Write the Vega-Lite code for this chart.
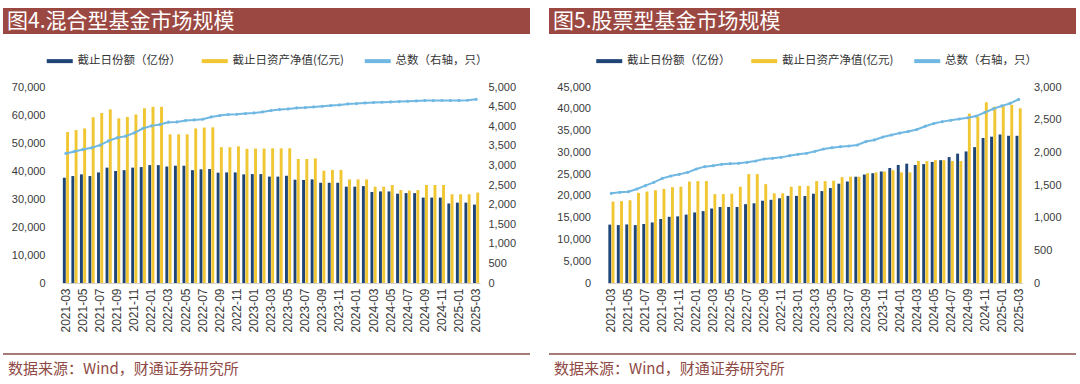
{
  "$schema": "https://vega.github.io/schema/vega-lite/v6.json",
  "background": "white",
  "padding": {"left": 3, "top": 8, "right": 0, "bottom": 0},
  "spacing": 20,
  "config": {
    "font": "Noto Sans CJK SC",
    "view": {"stroke": null},
    "axis": {"labelFont": "Liberation Sans", "labelFontSize": 11, "labelColor": "#3a3a3a", "ticks": false, "grid": false, "domain": false}
  },
  "resolve": {"scale": {"color": "independent"}, "legend": {"color": "independent"}},
  "datasets": {
    "mixed": [
      {"m": "2021-03", "share": 37600, "nav": 53900, "count": 3305},
      {"m": "2021-04", "share": 38200, "nav": 54600, "count": 3356},
      {"m": "2021-05", "share": 38800, "nav": 55200, "count": 3407},
      {"m": "2021-06", "share": 38200, "nav": 59200, "count": 3449},
      {"m": "2021-07", "share": 39500, "nav": 60700, "count": 3517},
      {"m": "2021-08", "share": 41200, "nav": 62000, "count": 3627},
      {"m": "2021-09", "share": 40000, "nav": 58800, "count": 3703},
      {"m": "2021-10", "share": 40300, "nav": 59300, "count": 3746},
      {"m": "2021-11", "share": 41200, "nav": 60200, "count": 3830},
      {"m": "2021-12", "share": 41400, "nav": 62400, "count": 3941},
      {"m": "2022-01", "share": 42100, "nav": 62900, "count": 4008},
      {"m": "2022-02", "share": 42100, "nav": 62900, "count": 4042},
      {"m": "2022-03", "share": 41600, "nav": 53100, "count": 4102},
      {"m": "2022-04", "share": 41900, "nav": 53100, "count": 4110},
      {"m": "2022-05", "share": 41900, "nav": 53100, "count": 4144},
      {"m": "2022-06", "share": 40300, "nav": 55200, "count": 4161},
      {"m": "2022-07", "share": 40600, "nav": 55500, "count": 4178},
      {"m": "2022-08", "share": 40700, "nav": 55600, "count": 4237},
      {"m": "2022-09", "share": 39400, "nav": 48500, "count": 4271},
      {"m": "2022-10", "share": 39500, "nav": 48500, "count": 4297},
      {"m": "2022-11", "share": 39500, "nav": 48800, "count": 4305},
      {"m": "2022-12", "share": 38800, "nav": 47900, "count": 4322},
      {"m": "2023-01", "share": 38900, "nav": 48000, "count": 4339},
      {"m": "2023-02", "share": 38900, "nav": 48000, "count": 4364},
      {"m": "2023-03", "share": 38000, "nav": 48100, "count": 4400},
      {"m": "2023-04", "share": 38000, "nav": 48100, "count": 4424},
      {"m": "2023-05", "share": 38300, "nav": 48100, "count": 4441},
      {"m": "2023-06", "share": 36900, "nav": 44300, "count": 4466},
      {"m": "2023-07", "share": 36800, "nav": 44300, "count": 4475},
      {"m": "2023-08", "share": 37000, "nav": 44500, "count": 4492},
      {"m": "2023-09", "share": 35800, "nav": 40100, "count": 4508},
      {"m": "2023-10", "share": 35800, "nav": 40400, "count": 4525},
      {"m": "2023-11", "share": 35800, "nav": 40400, "count": 4542},
      {"m": "2023-12", "share": 34400, "nav": 37000, "count": 4568},
      {"m": "2024-01", "share": 34400, "nav": 37000, "count": 4576},
      {"m": "2024-02", "share": 34600, "nav": 37000, "count": 4593},
      {"m": "2024-03", "share": 32500, "nav": 34400, "count": 4602},
      {"m": "2024-04", "share": 32700, "nav": 34400, "count": 4610},
      {"m": "2024-05", "share": 32700, "nav": 35000, "count": 4619},
      {"m": "2024-06", "share": 31900, "nav": 33200, "count": 4627},
      {"m": "2024-07", "share": 32100, "nav": 33000, "count": 4636},
      {"m": "2024-08", "share": 32100, "nav": 33200, "count": 4644},
      {"m": "2024-09", "share": 30500, "nav": 35000, "count": 4653},
      {"m": "2024-10", "share": 30500, "nav": 35000, "count": 4653},
      {"m": "2024-11", "share": 30500, "nav": 35000, "count": 4655},
      {"m": "2024-12", "share": 28400, "nav": 31700, "count": 4655},
      {"m": "2025-01", "share": 28700, "nav": 31700, "count": 4657},
      {"m": "2025-02", "share": 28700, "nav": 31700, "count": 4661},
      {"m": "2025-03", "share": 28000, "nav": 32300, "count": 4686}
    ],
    "stock": [
      {"m": "2021-03", "share": 13400, "nav": 18700, "count": 1372},
      {"m": "2021-04", "share": 13300, "nav": 18800, "count": 1388},
      {"m": "2021-05", "share": 13450, "nav": 19000, "count": 1398},
      {"m": "2021-06", "share": 13300, "nav": 20700, "count": 1439},
      {"m": "2021-07", "share": 13550, "nav": 21000, "count": 1490},
      {"m": "2021-08", "share": 13900, "nav": 21300, "count": 1541},
      {"m": "2021-09", "share": 14700, "nav": 21600, "count": 1602},
      {"m": "2021-10", "share": 15200, "nav": 22000, "count": 1638},
      {"m": "2021-11", "share": 15300, "nav": 22100, "count": 1663},
      {"m": "2021-12", "share": 15700, "nav": 23300, "count": 1694},
      {"m": "2022-01", "share": 16200, "nav": 23400, "count": 1745},
      {"m": "2022-02", "share": 16500, "nav": 23400, "count": 1781},
      {"m": "2022-03", "share": 17100, "nav": 20400, "count": 1796},
      {"m": "2022-04", "share": 17450, "nav": 20400, "count": 1816},
      {"m": "2022-05", "share": 17450, "nav": 20500, "count": 1827},
      {"m": "2022-06", "share": 17450, "nav": 22100, "count": 1832},
      {"m": "2022-07", "share": 18100, "nav": 25000, "count": 1847},
      {"m": "2022-08", "share": 18300, "nav": 25000, "count": 1867},
      {"m": "2022-09", "share": 18900, "nav": 22700, "count": 1898},
      {"m": "2022-10", "share": 19100, "nav": 20600, "count": 1908},
      {"m": "2022-11", "share": 19450, "nav": 20600, "count": 1923},
      {"m": "2022-12", "share": 20000, "nav": 22100, "count": 1949},
      {"m": "2023-01", "share": 20000, "nav": 22300, "count": 1969},
      {"m": "2023-02", "share": 20000, "nav": 22300, "count": 1985},
      {"m": "2023-03", "share": 20500, "nav": 23400, "count": 2015},
      {"m": "2023-04", "share": 21100, "nav": 23400, "count": 2051},
      {"m": "2023-05", "share": 21800, "nav": 23500, "count": 2071},
      {"m": "2023-06", "share": 22800, "nav": 24300, "count": 2087},
      {"m": "2023-07", "share": 23300, "nav": 24400, "count": 2097},
      {"m": "2023-08", "share": 24400, "nav": 24400, "count": 2112},
      {"m": "2023-09", "share": 24900, "nav": 25200, "count": 2165},
      {"m": "2023-10", "share": 25200, "nav": 25400, "count": 2190},
      {"m": "2023-11", "share": 25600, "nav": 25600, "count": 2235},
      {"m": "2023-12", "share": 26400, "nav": 25900, "count": 2265},
      {"m": "2024-01", "share": 27100, "nav": 25400, "count": 2295},
      {"m": "2024-02", "share": 27400, "nav": 25400, "count": 2320},
      {"m": "2024-03", "share": 27100, "nav": 28000, "count": 2350},
      {"m": "2024-04", "share": 27300, "nav": 28000, "count": 2400},
      {"m": "2024-05", "share": 27800, "nav": 28200, "count": 2440},
      {"m": "2024-06", "share": 28200, "nav": 28200, "count": 2470},
      {"m": "2024-07", "share": 28900, "nav": 28000, "count": 2490},
      {"m": "2024-08", "share": 29700, "nav": 28000, "count": 2510},
      {"m": "2024-09", "share": 30200, "nav": 38900, "count": 2530},
      {"m": "2024-10", "share": 31200, "nav": 38200, "count": 2555},
      {"m": "2024-11", "share": 33300, "nav": 41500, "count": 2610},
      {"m": "2024-12", "share": 33600, "nav": 40500, "count": 2665},
      {"m": "2025-01", "share": 34100, "nav": 40900, "count": 2710},
      {"m": "2025-02", "share": 33800, "nav": 40900, "count": 2750},
      {"m": "2025-03", "share": 33800, "nav": 40100, "count": 2810}
    ]
  },
  "vconcat": [
    {
      "spacing": 19,
      "hconcat": [
        {
          "width": 527, "height": 26,
          "data": {"values": []},
          "mark": "text", "encoding": {},
          "view": {"fill": "#9B4842", "stroke": null},
          "title": {"text": "图4.混合型基金市场规模", "color": "#ffffff", "fontSize": 21, "fontWeight": "normal", "font": "Noto Sans CJK SC", "anchor": "start", "offset": -24, "dx": 4}
        },
        {
          "width": 527, "height": 26,
          "data": {"values": []},
          "mark": "text", "encoding": {},
          "view": {"fill": "#9B4842", "stroke": null},
          "title": {"text": "图5.股票型基金市场规模", "color": "#ffffff", "fontSize": 21, "fontWeight": "normal", "font": "Noto Sans CJK SC", "anchor": "start", "offset": -24, "dx": 4}
        }
      ]
    },
    {
      "spacing": 33.5,
      "resolve": {"scale": {"color": "independent"}, "legend": {"color": "independent"}},
      "hconcat": [
        {
          "width": 477, "height": 196,
          "data": {"name": "mixed"},
          "encoding": {
            "x": {"field": "m", "type": "nominal", "sort": null,
              "scale": {"range": [59, 477], "paddingInner": 0.28, "paddingOuter": 0.1},
              "axis": {"title": null, "labelAngle": -90, "labelPadding": 5, "labelFontSize": 12, "domain": true, "domainColor": "#d0d0d0",
                "values": ["2021-03","2021-05","2021-07","2021-09","2021-11","2022-01","2022-03","2022-05","2022-07","2022-09","2022-11","2023-01","2023-03","2023-05","2023-07","2023-09","2023-11","2024-01","2024-03","2024-05","2024-07","2024-09","2024-11","2025-01","2025-03"]}}
          },
          "layer": [
            {
              "transform": [{"fold": ["share", "nav"], "as": ["series", "val"]}],
              "mark": {"type": "bar"},
              "encoding": {
                "xOffset": {"field": "series", "type": "nominal", "sort": ["share", "nav"], "scale": {"paddingInner": 0.1}},
                "y": {"field": "val", "type": "quantitative", "scale": {"domain": [0, 70000]},
                  "axis": {"title": null, "offset": -59, "values": [0, 10000, 20000, 30000, 40000, 50000, 60000, 70000], "format": ",.0f", "labelPadding": 17}},
                "color": {"field": "series", "type": "nominal",
                  "scale": {"domain": ["share", "nav", "count"], "range": ["#1F4577", "#F0C633", "#70B8E2"]},
                  "legend": {"title": null, "orient": "none", "legendX": 42, "legendY": -33, "direction": "horizontal", "padding": 1,
                    "symbolType": "M-1,-0.4H4.2V0.4H-1Z", "symbolSize": 100, "symbolStrokeWidth": 0, "labelOffset": 20, "columnPadding": 20,
                    "labelFontSize": 11.5, "labelFont": "Noto Sans CJK SC", "labelColor": "#333333",
                    "labelExpr": "datum.label == 'share' ? '截止日份额（亿份）' : datum.label == 'nav' ? '截止日资产净值(亿元)' : '总数（右轴，只）'"}}
              }
            },
            {
              "mark": {"type": "line", "color": "#70B8E2", "strokeWidth": 2, "point": {"filled": true, "size": 10, "color": "#70B8E2"}},
              "encoding": {
                "y": {"field": "count", "type": "quantitative", "scale": {"domain": [0, 5000]},
                  "axis": {"orient": "right", "title": null, "values": [0, 500, 1000, 1500, 2000, 2500, 3000, 3500, 4000, 4500, 5000], "format": ",.0f", "labelPadding": 8}}
              }
            }
          ],
          "resolve": {"scale": {"y": "independent"}}
        },
        {
          "width": 473, "height": 196,
          "data": {"name": "stock"},
          "encoding": {
            "x": {"field": "m", "type": "nominal", "sort": null,
              "scale": {"range": [58, 473], "paddingInner": 0.28, "paddingOuter": 0.1},
              "axis": {"title": null, "labelAngle": -90, "labelPadding": 5, "labelFontSize": 12, "domain": true, "domainColor": "#d0d0d0",
                "values": ["2021-03","2021-05","2021-07","2021-09","2021-11","2022-01","2022-03","2022-05","2022-07","2022-09","2022-11","2023-01","2023-03","2023-05","2023-07","2023-09","2023-11","2024-01","2024-03","2024-05","2024-07","2024-09","2024-11","2025-01","2025-03"]}}
          },
          "layer": [
            {
              "transform": [{"fold": ["share", "nav"], "as": ["series", "val"]}],
              "mark": {"type": "bar"},
              "encoding": {
                "xOffset": {"field": "series", "type": "nominal", "sort": ["share", "nav"], "scale": {"paddingInner": 0.1}},
                "y": {"field": "val", "type": "quantitative", "scale": {"domain": [0, 45000]},
                  "axis": {"title": null, "offset": -58, "values": [0, 5000, 10000, 15000, 20000, 25000, 30000, 35000, 40000, 45000], "format": ",.0f", "labelPadding": 17}},
                "color": {"field": "series", "type": "nominal",
                  "scale": {"domain": ["share", "nav", "count"], "range": ["#1F4577", "#F0C633", "#70B8E2"]},
                  "legend": {"title": null, "orient": "none", "legendX": 45, "legendY": -33, "direction": "horizontal", "padding": 1,
                    "symbolType": "M-1,-0.4H4.2V0.4H-1Z", "symbolSize": 100, "symbolStrokeWidth": 0, "labelOffset": 20, "columnPadding": 20,
                    "labelFontSize": 11.5, "labelFont": "Noto Sans CJK SC", "labelColor": "#333333",
                    "labelExpr": "datum.label == 'share' ? '截止日份额（亿份）' : datum.label == 'nav' ? '截止日资产净值(亿元)' : '总数（右轴，只）'"}}
              }
            },
            {
              "mark": {"type": "line", "color": "#70B8E2", "strokeWidth": 2, "point": {"filled": true, "size": 10, "color": "#70B8E2"}},
              "encoding": {
                "y": {"field": "count", "type": "quantitative", "scale": {"domain": [0, 3000]},
                  "axis": {"orient": "right", "title": null, "values": [0, 500, 1000, 1500, 2000, 2500, 3000], "format": ",.0f", "labelPadding": 11}}
              }
            }
          ],
          "resolve": {"scale": {"y": "independent"}}
        }
      ]
    },
    {
      "spacing": 19,
      "hconcat": [
        {
          "width": 527, "height": 2,
          "data": {"values": []},
          "mark": "text", "encoding": {},
          "view": {"fill": "#A67B78", "stroke": null},
          "title": {"text": "数据来源：Wind，财通证券研究所", "orient": "bottom", "anchor": "start", "color": "#8F4A45", "fontSize": 15, "fontWeight": "normal", "font": "Noto Sans CJK SC", "offset": 7, "dx": 5}
        },
        {
          "width": 527, "height": 2,
          "data": {"values": []},
          "mark": "text", "encoding": {},
          "view": {"fill": "#A67B78", "stroke": null},
          "title": {"text": "数据来源：Wind，财通证券研究所", "orient": "bottom", "anchor": "start", "color": "#8F4A45", "fontSize": 15, "fontWeight": "normal", "font": "Noto Sans CJK SC", "offset": 7, "dx": 5}
        }
      ]
    }
  ]
}
